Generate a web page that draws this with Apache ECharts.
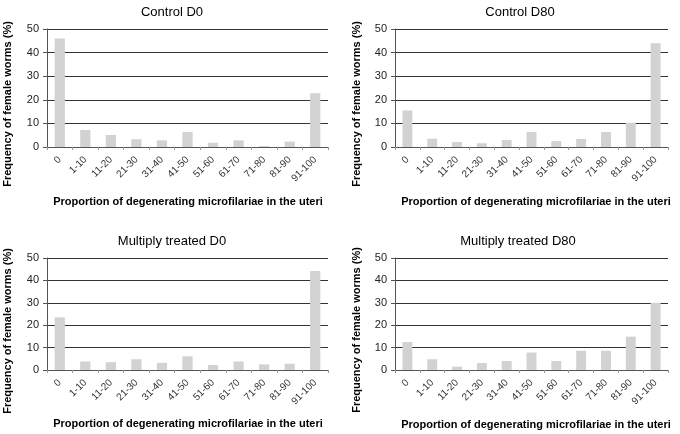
<!DOCTYPE html>
<html><head><meta charset="utf-8">
<script src="https://cdn.jsdelivr.net/npm/echarts@6/dist/echarts.min.js"></script>
<style>html,body{margin:0;padding:0;background:#fff}#c{width:680px;height:434px}</style>
</head><body><div id="c"></div>
<script>
var categories = ['0','1-10','11-20','21-30','31-40','41-50','51-60','61-70','71-80','81-90','91-100'];
var titles = ['Control D0','Control D80','Multiply treated D0','Multiply treated D80'];
var controlD0 = [46, 7.2, 5.1, 3.3, 2.8, 6.4, 1.8, 2.8, 0.4, 2.3, 22.8];
var controlD80 = [15.5, 3.5, 2.1, 1.6, 3.0, 6.4, 2.5, 3.4, 6.4, 10.3, 44];
var multiD0 = [23.5, 3.8, 3.5, 4.8, 3.2, 6.1, 2.2, 3.8, 2.5, 2.8, 44.2];
var multiD80 = [12.5, 4.8, 1.5, 3.1, 4.0, 7.8, 4.0, 8.6, 8.6, 14.9, 30];
var yTicks = [0, 10, 20, 30, 40, 50];
var yName = 'Frequency of female worms (%)';
var xName = 'Proportion of degenerating microfilariae in the uteri';

var seriesData = [controlD0, controlD80, multiD0, multiD80];
var grids = [
  {left: 47, top: 29, width: 281, height: 118},
  {left: 395, top: 29, width: 273, height: 118},
  {left: 47, top: 258, width: 281, height: 112},
  {left: 395, top: 258, width: 273, height: 112}
];
var titlePos = [[167, 1], [515, 1], [167, 230], [513, 230]];
var yNamePos = [[8, 104], [357, 104], [8, 331], [357, 330]];
var xNamePos = [[188, 202], [536, 202], [188, 424], [536, 425]];
var FONT = '"Liberation Sans", Arial, sans-serif';

var chart = echarts.init(document.getElementById('c'), null, {renderer: 'canvas'});
var option = {
  backgroundColor: '#fff',
  animation: false,
  title: titles.map(function (t, i) {
    return {text: t, left: titlePos[i][0], top: titlePos[i][1], textAlign: 'center',
      textStyle: {fontFamily: FONT, fontSize: 13, fontWeight: 'normal', color: '#000'}};
  }),
  grid: grids,
  xAxis: grids.map(function (g, i) {
    return {type: 'category', gridIndex: i, data: categories,
      axisLine: {lineStyle: {color: '#555', width: 1}},
      axisTick: {show: true, length: 3, lineStyle: {color: '#999'}},
      axisLabel: {rotate: 45, fontFamily: FONT, fontSize: 10, color: '#333', margin: 11, interval: 0}};
  }),
  yAxis: grids.map(function (g, i) {
    return {type: 'value', gridIndex: i, min: yTicks[0], max: yTicks[yTicks.length - 1], interval: 10,
      axisLine: {show: true, lineStyle: {color: '#555', width: 1}},
      axisTick: {show: true, length: 4, lineStyle: {color: '#555'}},
      axisLabel: {fontFamily: FONT, fontSize: 11, color: '#222', margin: 8},
      splitLine: {show: true, lineStyle: {color: '#333', width: 1}}};
  }),
  series: seriesData.map(function (d, i) {
    return {type: 'bar', xAxisIndex: i, yAxisIndex: i, data: d, barWidth: '40%',
      itemStyle: {color: '#d2d2d2'}};
  }),
  graphic: [].concat(
    yNamePos.map(function (p) {
      return {type: 'text', x: p[0], y: p[1], rotation: Math.PI / 2,
        style: {text: yName, font: 'bold 11px ' + FONT, fill: '#000', textAlign: 'center', textVerticalAlign: 'middle'}};
    }),
    xNamePos.map(function (p) {
      return {type: 'text', x: p[0], y: p[1],
        style: {text: xName, font: 'bold 11px ' + FONT, fill: '#000', textAlign: 'center', textVerticalAlign: 'middle'}};
    })
  )
};
chart.setOption(option);
</script>
</body></html>
